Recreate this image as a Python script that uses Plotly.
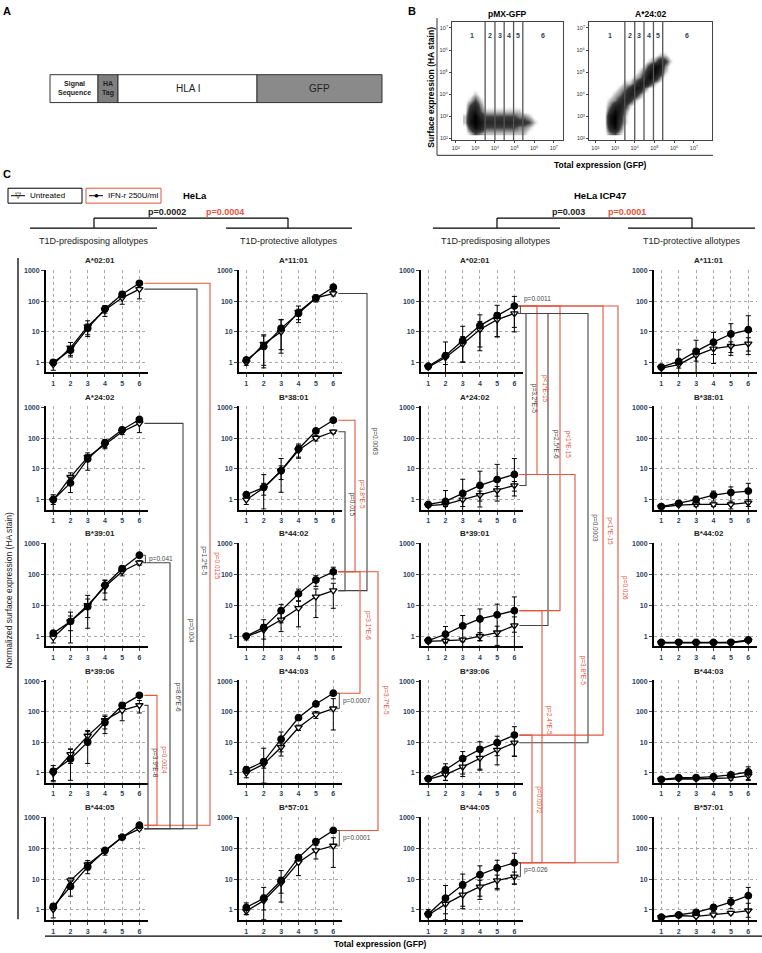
import numpy as np
import plotly.graph_objects as go

W, H = 762, 953
FONT = "Arial, Liberation Sans, sans-serif"
RED = "#e2553e"
GREY = "#444444"

# ---------------- data ----------------
GFP_BIN = [1, 2, 3, 4, 5, 6]
Y_TICKS = [1, 10, 100, 1000]

PREDISPOSING = ["A*02:01", "A*24:02", "B*39:01", "B*39:06", "B*44:05"]
PROTECTIVE = ["A*11:01", "B*38:01", "B*44:02", "B*44:03", "B*57:01"]

# HeLa, T1D-predisposing
HELA_PRED_IFN = [[1.0, 2.5, 13, 56, 170, 390], [1.0, 3.5, 21, 70, 185, 400],
                 [1.25, 3.0, 9, 45, 155, 420], [1.1, 2.8, 10, 44, 160, 340],
                 [1.3, 5.8, 25, 85, 230, 560]]
HELA_PRED_IFN_SD = [[0.2, 0.8, 5, 15, 40, 60], [0.3, 1.8, 12, 20, 30, 60],
                    [0.2, 3, 12, 20, 30, 40], [0.6, 3, 12, 25, 30, 20],
                    [0.3, 3, 10, 15, 30, 60]]
HELA_PRED_UT = [[0.85, 3.0, 15, 52, 130, 250], [0.95, 5.4, 24, 60, 160, 300],
                [0.9, 3.0, 10, 40, 125, 240], [0.95, 4, 16, 52, 110, 160],
                [1.05, 9, 30, 80, 230, 430]]
HELA_PRED_UT_SD = [[0.3, 1.5, 8, 20, 50, 130], [0.5, 2, 5, 15, 30, 150],
                   [0.3, 1.5, 6, 25, 35, 40], [0.4, 2, 8, 25, 60, 70],
                   [0.5, 2, 10, 20, 30, 40]]

# HeLa, T1D-protective
HELA_PROT_IFN = [[1.2, 3.3, 13, 40, 125, 290], [1.45, 2.5, 8.7, 44, 170, 380],
                 [1.0, 1.9, 6.7, 23.5, 66, 122], [1.25, 2.3, 12.5, 63, 178, 400],
                 [1.2, 2.4, 9, 50, 165, 380]]
HELA_PROT_IFN_SD = [[0.2, 4, 12, 15, 20, 60], [0.3, 4, 13, 20, 30, 40],
                    [0.15, 1.5, 4, 10, 25, 50], [0.3, 4, 9, 10, 20, 40],
                    [0.5, 3, 10, 10, 20, 30]]
HELA_PROT_UT = [[1.0, 4, 10, 45, 130, 180], [1.0, 2.4, 8.5, 40, 100, 160],
                [0.95, 1.6, 3.4, 8, 19, 30], [0.98, 1.9, 6.8, 30, 80, 125],
                [0.92, 2.0, 7.5, 35, 85, 120]]
HELA_PROT_UT_SD = [[0.2, 4, 15, 25, 35, 30], [0.3, 1, 4, 18, 20, 20],
                   [0.2, 0.8, 2, 6, 15, 22], [0.3, 0.5, 2, 6, 20, 140],
                   [0.2, 1, 4, 22, 40, 100]]

# HeLa ICP47, T1D-predisposing
ICP_PRED_IFN = [[0.75, 1.65, 5.2, 16, 34, 70], [0.7, 0.88, 1.6, 2.9, 4.5, 6.6],
                [0.72, 1.15, 2.15, 3.6, 4.9, 6.7], [0.63, 1.25, 2.9, 5.8, 9.6, 17],
                [0.74, 2.4, 6.6, 14, 23, 34]]
ICP_PRED_IFN_SD = [[0.1, 3, 10, 20, 40, 75], [0.1, 1.1, 3, 5.5, 9.5, 15],
                   [0.1, 0.9, 2.5, 4, 6, 12], [0.05, 0.7, 2, 4.5, 6, 15],
                   [0.3, 3.8, 8, 13, 18, 35]]
ICP_PRED_UT = [[0.7, 1.45, 4, 12, 25, 40], [0.64, 0.7, 1.0, 1.4, 2.0, 2.9],
               [0.67, 0.7, 0.76, 1.0, 1.3, 2.2], [0.6, 0.86, 1.55, 3.0, 5.5, 9.5],
               [0.69, 1.55, 3.1, 5.7, 9, 12]]
ICP_PRED_UT_SD = [[0.1, 0.6, 3, 10, 18, 30], [0.05, 0.1, 0.4, 0.5, 0.7, 1.0],
                  [0.05, 0.1, 0.1, 0.3, 0.8, 2.0], [0.05, 0.3, 0.8, 1.8, 3.7, 6],
                  [0.1, 0.8, 2, 3.5, 4.5, 5]]

# HeLa ICP47, T1D-protective
ICP_PROT_IFN = [[0.7, 1.07, 2.3, 4.6, 8.5, 11.7], [0.6, 0.76, 1.0, 1.4, 1.7, 1.9],
                [0.62, 0.63, 0.62, 0.62, 0.63, 0.75], [0.6, 0.68, 0.69, 0.74, 0.85, 1.05],
                [0.58, 0.69, 0.84, 1.2, 1.8, 2.9]]
ICP_PROT_IFN_SD = [[0.05, 1.5, 3, 5, 10, 22], [0.05, 0.1, 0.3, 0.5, 0.9, 1.5],
                   [0.05, 0.05, 0.05, 0.05, 0.05, 0.1], [0.05, 0.05, 0.05, 0.08, 0.15, 0.5],
                   [0.1, 0.05, 0.1, 0.3, 0.7, 2.5]]
ICP_PROT_UT = [[0.65, 0.85, 1.7, 2.8, 3.4, 4.1], [0.58, 0.67, 0.7, 0.7, 0.7, 0.8],
               [0.6, 0.61, 0.6, 0.6, 0.61, 0.7], [0.58, 0.63, 0.62, 0.64, 0.67, 0.8],
               [0.58, 0.66, 0.62, 0.7, 0.8, 0.95]]
ICP_PROT_UT_SD = [[0.05, 0.2, 0.6, 1.0, 1.3, 2.3], [0.05, 0.05, 0.1, 0.1, 0.2, 0.2],
                  [0.03, 0.03, 0.03, 0.03, 0.05, 0.08], [0.05, 0.05, 0.05, 0.05, 0.1, 0.2],
                  [0.05, 0.05, 0.05, 0.1, 0.1, 0.7]]

# panel B: estimated dot density (0-9), rows from low to high HA stain
FACS_X = [2.5, 2.75, 3.0, 3.25, 3.5, 3.75, 4.0, 4.25, 4.5, 4.75, 5.0, 5.25, 5.5, 5.75, 6.0, 6.25, 6.5]
FACS_Y = [2.25, 2.5, 2.75, 3.0, 3.25, 3.5, 3.75, 4.0, 4.25, 4.5, 4.75, 5.0, 5.25, 5.5, 5.75, 6.0]
FACS_TICKS = ["10²", "10³", "10⁴", "10⁵", "10⁶", "10⁷"]
PMX_DENSITY = [
    "01321111111110000",
    "04863333333221000",
    "17975555555443100",
    "16953333333221000",
    "05731111111100000",
    "03520000000000000",
    "01310000000000000",
    "00100000000000000",
    "00000000000000000",
    "00000000000000000",
    "00000000000000000",
    "00000000000000000",
    "00000000000000000",
    "00000000000000000",
    "00000000000000000",
    "00000000000000000",
]
A2402_DENSITY = [
    "02310000000000000",
    "05830000000000000",
    "07941000000000000",
    "07951000000000000",
    "04862000000000000",
    "02564100000000000",
    "01246410000000000",
    "00124652000000000",
    "00012476200000000",
    "00001136741000000",
    "00000012586200000",
    "00000001378510000",
    "00000000148720000",
    "00000000012541000",
    "00000000000110000",
    "00000000000000000",
]
GATE_EDGES = [3.5, 4.0, 4.47, 4.95, 5.42]
GATE_LABELS = ["1", "2", "3", "4", "5", "6"]

# ---------------- geometry (page pixels) ----------------
COL_PX = [(46, 148), (239, 342), (421, 523), (654, 757)]
ROW_PX = [(268, 371), (405, 509), (542, 646), (680, 783), (817, 921)]
XR = [0.58, 6.5]
YR = [-0.33, 3.03]

COLUMNS = [
    (PREDISPOSING, HELA_PRED_UT, HELA_PRED_UT_SD, HELA_PRED_IFN, HELA_PRED_IFN_SD),
    (PROTECTIVE, HELA_PROT_UT, HELA_PROT_UT_SD, HELA_PROT_IFN, HELA_PROT_IFN_SD),
    (PREDISPOSING, ICP_PRED_UT, ICP_PRED_UT_SD, ICP_PRED_IFN, ICP_PRED_IFN_SD),
    (PROTECTIVE, ICP_PROT_UT, ICP_PROT_UT_SD, ICP_PROT_IFN, ICP_PROT_IFN_SD),
]

# p-value brackets: (col, row_a, series_a, row_b, series_b, x_px, colour, label, label_y_px)
BRACKETS = [
    (0, 0, "u", 4, "u", 197, GREY, "p=1.2*E-5", 560),
    (0, 0, "i", 4, "i", 210, RED, "p=0.0125", 565),
    (0, 1, "u", 4, "u", 183, GREY, "p=0.004", 630),
    (0, 2, "u", 4, "u", 170, GREY, "p=8.6*E-6", 697),
    (0, 3, "u", 4, "u", 148, GREY, "p=3.9*E-8", 763),
    (0, 3, "i", 4, "i", 157, RED, "p=0.0024", 760),
    (1, 0, "u", 2, "u", 367, GREY, "p=0.0063", 440),
    (1, 1, "i", 2, "i", 355, RED, "p=3.8*E-5", 493),
    (1, 1, "u", 2, "u", 345, GREY, "p=0.015", 503),
    (1, 2, "i", 3, "i", 360, RED, "p=3.1*E-6", 625),
    (1, 2, "i", 4, "i", 378, RED, "p=3.7*E-5", 700),
    (2, 0, "u", 1, "u", 526, GREY, "p=3.2*E-5", 397),
    (2, 0, "i", 1, "i", 537, RED, "p<1*E-15", 387),
    (2, 0, "u", 2, "u", 548, GREY, "p=2.5*E-6", 443),
    (2, 0, "i", 2, "i", 560, RED, "p<1*E-15", 443),
    (2, 0, "u", 3, "u", 588, GREY, "p=0.0003", 527),
    (2, 0, "i", 3, "i", 603, RED, "p<1*E-15", 530),
    (2, 1, "i", 4, "i", 575, RED, "p=3.8*E-5", 670),
    (2, 2, "i", 4, "i", 542, RED, "p=2.4*E-5", 720),
    (2, 3, "i", 4, "i", 532, RED, "p=0.0072", 800),
    (2, 0, "i", 4, "i", 618, RED, "p=0.026", 587),
]
# in-panel brackets at bin 6: (col, row, label, vertical shift of the label in px)
SMALL_P = [(0, 2, "p=0.041", 0), (1, 3, "p=0.0007", 0), (1, 4, "p=0.0001", 0),
           (2, 0, "p=0.0011", -11), (2, 4, "p=0.026", 0)]


def px(x):
    return x / W


def py(y):
    return 1 - y / H


def y_px(r, v):
    t, b = ROW_PX[r]
    return t + (YR[1] - np.log10(v)) / (YR[1] - YR[0]) * (b - t)


def x_px(c, x):
    l, r = COL_PX[c]
    return l + (x - XR[0]) / (XR[1] - XR[0]) * (r - l)


def aid(n):
    return "" if n == 1 else str(n)


shapes = []
annotations = []


def line(x0, y0, x1, y1, color="black", width=1.2):
    shapes.append(dict(type="line", xref="paper", yref="paper",
                       x0=px(x0), y0=py(y0), x1=px(x1), y1=py(y1),
                       line=dict(color=color, width=width)))


def poly(pts, color, width=1.1):
    d = "M " + " L ".join(f"{px(x):.5f},{py(y):.5f}" for x, y in pts)
    shapes.append(dict(type="path", xref="paper", yref="paper", path=d,
                       line=dict(color=color, width=width)))


def text(x, y, s, size=8, color="black", bold=False, angle=0, xanchor="center", yanchor="middle"):
    annotations.append(dict(x=px(x), y=py(y), xref="paper", yref="paper", text=s,
                            showarrow=False, textangle=angle, xanchor=xanchor, yanchor=yanchor,
                            font=dict(family=FONT, size=size, color=color,
                                      weight="bold" if bold else "normal")))


fig = go.Figure()
layout_axes = {}

# ---------------- panel C small multiples ----------------
for c, (names, ut, ut_sd, ifn, ifn_sd) in enumerate(COLUMNS):
    for r in range(5):
        n = c * 5 + r + 1
        for vals, sd, sym, fill in [(ut[r], ut_sd[r], "triangle-down", "white"),
                                    (ifn[r], ifn_sd[r], "circle", "black")]:
            fig.add_trace(go.Scatter(
                x=GFP_BIN, y=vals, mode="lines+markers",
                xaxis="x" + aid(n), yaxis="y" + aid(n),
                line=dict(color="black", width=1.3),
                marker=dict(symbol=sym, size=6.5, color=fill, line=dict(color="black", width=1.3)),
                error_y=dict(type="data", symmetric=False, array=sd,
                             arrayminus=[min(s, 0.8 * v) for s, v in zip(sd, vals)],
                             color="black", thickness=1, width=2.5),
                showlegend=False, hoverinfo="skip",
            ))
        l, rr = COL_PX[c]
        t, b = ROW_PX[r]
        layout_axes["xaxis" + aid(n)] = dict(
            domain=[px(l), px(rr)], range=XR, anchor="y" + aid(n),
            tickvals=GFP_BIN, ticks="outside", ticklen=3, tickwidth=1.3,
            showline=True, linecolor="black", linewidth=2,
            showgrid=True, gridcolor="#a8a8a8", griddash="dot", gridwidth=0.8,
            zeroline=False, tickfont=dict(family=FONT, size=7, weight="bold"),
        )
        layout_axes["yaxis" + aid(n)] = dict(
            domain=[py(b), py(t)], type="log", range=YR, anchor="x" + aid(n),
            tickvals=Y_TICKS, ticktext=[str(v) for v in Y_TICKS],
            ticks="outside", ticklen=3, tickwidth=1.3,
            showline=True, linecolor="black", linewidth=2,
            showgrid=True, gridcolor="#a8a8a8", griddash="dot", gridwidth=0.8,
            zeroline=False, tickfont=dict(family=FONT, size=7, weight="bold"),
        )
        text((l + rr) / 2 + 3, t - 9, names[r], size=8, bold=True, color="#222")


def series_val(c, r, s):
    cols = COLUMNS[c]
    return (cols[1] if s == "u" else cols[3])[r][5]


for c, ra, sa, rb, sb, xv, col, lab, ly in BRACKETS:
    ya = y_px(ra, series_val(c, ra, sa))
    yb = y_px(rb, series_val(c, rb, sb))
    x6 = x_px(c, 6) + 5
    poly([(x6, ya), (xv, ya), (xv, yb), (x6, yb)], col)
    text(xv + 1.5, ly, lab, size=6.5, color=col, angle=90, xanchor="left")

for c, r, lab, dy in SMALL_P:
    ya = y_px(r, series_val(c, r, "i"))
    yb = y_px(r, series_val(c, r, "u"))
    xb = x_px(c, 6) + 6
    poly([(xb - 3, ya), (xb, ya), (xb, yb), (xb - 3, yb)], GREY, 1)
    text(xb + 1.5, (ya + yb) / 2 + dy, lab, size=6.5, color=GREY, xanchor="left")

# ---------------- panel B flow plots ----------------
for n, dens, (l, rr), xr, ttl in [(21, PMX_DENSITY, (452, 563), [1.81, 7.47], "pMX-GFP"),
                                  (22, A2402_DENSITY, (589, 712), [1.68, 7.92], "A*24:02")]:
    z = [[int(ch) for ch in row] for row in dens]
    fig.add_trace(go.Heatmap(x=FACS_X, y=FACS_Y, z=z, xaxis="x%d" % n, yaxis="y%d" % n,
                             zmin=0, zmax=9, zsmooth="best", showscale=False, hoverinfo="skip",
                             colorscale=[[0, "rgba(255,255,255,0)"], [0.1, "#c8c8c8"],
                                         [0.35, "#3a3a3a"], [1, "#000000"]]))
    axstyle = dict(tickvals=list(range(2, 8)), ticktext=FACS_TICKS, ticks="outside", ticklen=2,
                   showline=True, mirror=True, linecolor="#444", linewidth=1,
                   showgrid=False, zeroline=False, tickfont=dict(family=FONT, size=5.5, color="#333"))
    layout_axes["xaxis%d" % n] = dict(domain=[px(l), px(rr)], range=xr, anchor="y%d" % n, **axstyle)
    layout_axes["yaxis%d" % n] = dict(domain=[py(138), py(19)], range=[1.91, 7.27],
                                      anchor="x%d" % n, **axstyle)
    for g in GATE_EDGES:
        shapes.append(dict(type="line", xref="x%d" % n, yref="y%d domain" % n,
                           x0=g, x1=g, y0=0, y1=1, line=dict(color="#555", width=1.3)))
    edges = [xr[0] + 0.3] + GATE_EDGES + [xr[1]]
    for k, lab in enumerate(GATE_LABELS):
        gx = (edges[k] + edges[k + 1]) / 2
        annotations.append(dict(x=gx, y=0.93, xref="x%d" % n, yref="y%d domain" % n, text=lab,
                                showarrow=False, font=dict(family=FONT, size=7, weight="bold")))
    text((l + rr) / 2, 11, ttl, size=8.5, bold=True)

line(437, 15, 437, 153, "#555", 1.2)
line(437, 153, 713, 153, "#555", 1.2)
text(431, 84, "Surface expression (HA stain)", size=8.5, bold=True, angle=-90)
text(600, 163, "Total expression (GFP)", size=8.5, bold=True)

# ---------------- panel A construct ----------------
for x0, x1, fill, lab, fs in [(50, 98, "white", "Signal<br>Sequence", 7),
                              (98, 118, "#7f7f7f", "HA<br>Tag", 7),
                              (118, 257, "white", "HLA I", 10),
                              (257, 382, "#8a8a8a", "GFP", 10)]:
    shapes.append(dict(type="rect", xref="paper", yref="paper", x0=px(x0), x1=px(x1),
                       y0=py(100), y1=py(72), fillcolor=fill, line=dict(color="#333", width=1)))
    text((x0 + x1) / 2, 86, lab, size=fs, bold=(fs == 7), color="#222")

# panel letters
text(7, 8, "A", size=11, bold=True)
text(412, 8, "B", size=11, bold=True)
text(7, 172, "C", size=11, bold=True)

# ---------------- headers of panel C ----------------
shapes.append(dict(type="rect", xref="paper", yref="paper", x0=px(8), x1=px(82), y0=py(201), y1=py(186),
                   line=dict(color="black", width=1)))
shapes.append(dict(type="rect", xref="paper", yref="paper", x0=px(86), x1=px(161), y0=py(201), y1=py(186),
                   line=dict(color=RED, width=1)))
line(11, 193.5, 25, 193.5, "black", 1)
line(89, 193.5, 103, 193.5, "black", 1)
text(18, 193.5, "▽", size=8)
text(96, 193.5, "●", size=8)
text(28, 193.5, "Untreated", size=8, xanchor="left")
text(106, 193.5, "IFN-r 250U/ml", size=8, xanchor="left")
text(195, 193, "HeLa", size=9.5, bold=True)
text(600, 193, "HeLa ICP47", size=9.5, bold=True)

for xl, xr_, pa, pb, pax, pbx, u1, u2 in [(94, 288, "p=0.0002", "p=0.0004", 167, 225, (30, 157), (226, 352)),
                                          (497, 692, "p=0.003", "p=0.0001", 568, 627, (433, 560), (628, 755))]:
    line(xl, 216, xr_, 216)
    line(xl, 216, xl, 226)
    line(xr_, 216, xr_, 226)
    line(u1[0], 226, u1[1], 226)
    line(u2[0], 226, u2[1], 226)
    text(pax, 210, pa, size=9, bold=True, color="#222")
    text(pbx, 210, pb, size=9, bold=True, color=RED)
    text((u1[0] + u1[1]) / 2, 239, "T1D-predisposing allotypes", size=9, color="#222")
    text((u2[0] + u2[1]) / 2, 239, "T1D-protective allotypes", size=9, color="#222")

line(18, 256, 18, 920, "black", 1.3)
text(9, 590, "Normalized surface expression (HA stain)", size=8.5, angle=-90, color="#222")
line(45, 937, 762, 937, "black", 1.3)
text(380, 945, "Total expression (GFP)", size=8.5, bold=True)

fig.update_layout(
    width=W, height=H, margin=dict(l=0, r=0, t=0, b=0),
    paper_bgcolor="white", plot_bgcolor="white", showlegend=False,
    shapes=shapes, annotations=annotations, font=dict(family=FONT),
    **layout_axes,
)

# the page's default 8 px body margin would push the figure out of the window
fig.write_html("out.html", config={"displayModeBar": False},
               post_script="document.body.style.margin='0';")
